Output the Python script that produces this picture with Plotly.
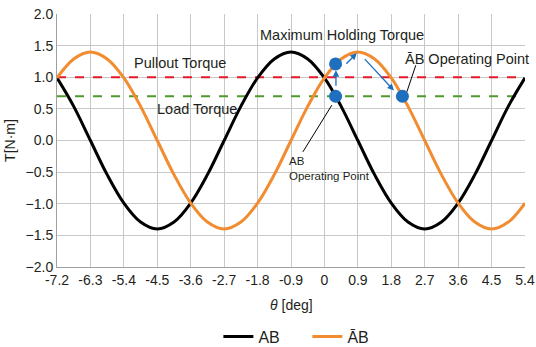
import plotly.graph_objects as go

# Data
theta = [-7.2, -6.75, -6.3, -5.85, -5.4, -4.95, -4.5, -4.05, -3.6, -3.15, -2.7, -2.25,
         -1.8, -1.35, -0.9, -0.45, 0.0, 0.45, 0.9, 1.35, 1.8, 2.25, 2.7, 3.15, 3.6,
         4.05, 4.5, 4.95, 5.4]
torque_ab = [0.99, 0.54, 0.0, -0.54, -0.99, -1.29, -1.4, -1.29, -0.99, -0.54, 0.0, 0.54,
             0.99, 1.29, 1.4, 1.29, 0.99, 0.54, 0.0, -0.54, -0.99, -1.29, -1.4, -1.29,
             -0.99, -0.54, 0.0, 0.54, 0.99]
torque_abbar = [0.99, 1.29, 1.4, 1.29, 0.99, 0.54, 0.0, -0.54, -0.99, -1.29, -1.4, -1.29,
                -0.99, -0.54, 0.0, 0.54, 0.99, 1.29, 1.4, 1.29, 0.99, 0.54, 0.0, -0.54,
                -0.99, -1.29, -1.4, -1.29, -0.99]
pullout_torque = 1.0
load_torque = 0.7
point_x = [0.3, 0.3, 2.1]
point_y = [1.21, 0.7, 0.7]
x_ticks = [-7.2, -6.3, -5.4, -4.5, -3.6, -2.7, -1.8, -0.9, 0, 0.9, 1.8, 2.7, 3.6, 4.5, 5.4]
x_labels = ["-7.2", "-6.3", "-5.4", "-4.5", "-3.6", "-2.7", "-1.8", "-0.9", "0", "0.9",
            "1.8", "2.7", "3.6", "4.5", "5.4"]
y_ticks = [-2.0, -1.5, -1.0, -0.5, 0.0, 0.5, 1.0, 1.5, 2.0]

FONT = "Liberation Sans, Arial, sans-serif"
TXT = "#231f20"
BLUE = "#1f6fbf"

fig = go.Figure()
fig.add_trace(go.Scatter(x=[-7.2, 5.4], y=[pullout_torque, pullout_torque], mode="lines",
                         line=dict(color="#e5172b", width=2, dash="dash"), showlegend=False,
                         hoverinfo="skip"))
fig.add_trace(go.Scatter(x=[-7.2, 5.4], y=[load_torque, load_torque], mode="lines",
                         line=dict(color="#4e9a2f", width=2, dash="dash"), showlegend=False,
                         hoverinfo="skip"))
fig.add_trace(go.Scatter(x=theta, y=torque_ab, mode="lines", name="AB",
                         line=dict(color="black", width=3, shape="spline")))
fig.add_trace(go.Scatter(x=theta, y=torque_abbar, mode="lines", name="ĀB",
                         line=dict(color="#f28c30", width=3, shape="spline")))
fig.add_trace(go.Scatter(x=point_x, y=point_y, mode="markers", showlegend=False,
                         marker=dict(color=BLUE, size=13)))

# leader lines
fig.add_shape(type="line", x0=2.22, y0=0.77, x1=2.46, y1=1.19,
              line=dict(color="black", width=1))
fig.add_shape(type="line", x0=0.2, y0=0.56, x1=-0.58, y1=-0.18,
              line=dict(color="black", width=1))

# blue arrows
def arrow(x0, y0, x1, y1):
    fig.add_annotation(x=x1, y=y1, ax=x0, ay=y0, xref="x", yref="y", axref="x", ayref="y",
                       showarrow=True, arrowhead=2, arrowsize=1, arrowwidth=1.3,
                       arrowcolor=BLUE, text="")

arrow(0.31, 0.84, 0.31, 1.11)
arrow(0.55, 1.19, 0.87, 1.38)
arrow(1.05, 1.31, 1.87, 0.79)

def label(x, y, text, xanchor="left", size=14.5):
    fig.add_annotation(x=x, y=y, xref="x", yref="y", text=text, showarrow=False,
                       xanchor=xanchor, yanchor="middle",
                       font=dict(family=FONT, size=size, color=TXT))

label(0.47, 1.67, "Maximum Holding Torque", xanchor="center")
label(2.11, 1.29, "ĀB Operating Point")
label(-5.18, 1.22, "Pullout Torque")
label(-4.56, 0.5, "Load Torque")
fig.add_annotation(x=-1.01, y=-0.2, xref="x", yref="y", text="AB<br>Operating Point",
                   showarrow=False, xanchor="left", yanchor="top", align="left",
                   font=dict(family=FONT, size=11.5, color=TXT))

# x-axis title
fig.add_annotation(x=0.5, y=-0.15, xref="paper", yref="paper", text="<i>θ</i> [deg]",
                   showarrow=False, xanchor="center", yanchor="middle",
                   font=dict(family=FONT, size=14, color=TXT))

fig.update_layout(
    width=536, height=347,
    margin=dict(l=57, r=11, t=14, b=80),
    plot_bgcolor="white", paper_bgcolor="white",
    font=dict(family=FONT, size=14, color=TXT),
    showlegend=True,
    legend=dict(orientation="h", x=0.535, xanchor="center", yref="container",
                y=0.03, yanchor="middle",
                font=dict(family=FONT, size=16, color=TXT),
                entrywidth=44, tracegroupgap=0),
    xaxis=dict(range=[-7.2, 5.4], tickvals=x_ticks, ticktext=x_labels, automargin=False,
               showgrid=True, gridcolor="#c8c8c8", gridwidth=1, zeroline=False,
               showline=True, linecolor="#a0a0a0", ticks="", mirror=False,
               tickfont=dict(family=FONT, size=14, color=TXT)),
    yaxis=dict(range=[-2.0, 2.0], tickvals=y_ticks, tickformat=".1f", automargin=False,
               showgrid=True, gridcolor="#c8c8c8", gridwidth=1, zeroline=False,
               showline=True, linecolor="#a0a0a0", ticks="",
               tickfont=dict(family=FONT, size=14, color=TXT),
               title=dict(text="T[N·m]", standoff=6,
                          font=dict(family=FONT, size=14, color=TXT))),
)

fig.write_html("out.html")
